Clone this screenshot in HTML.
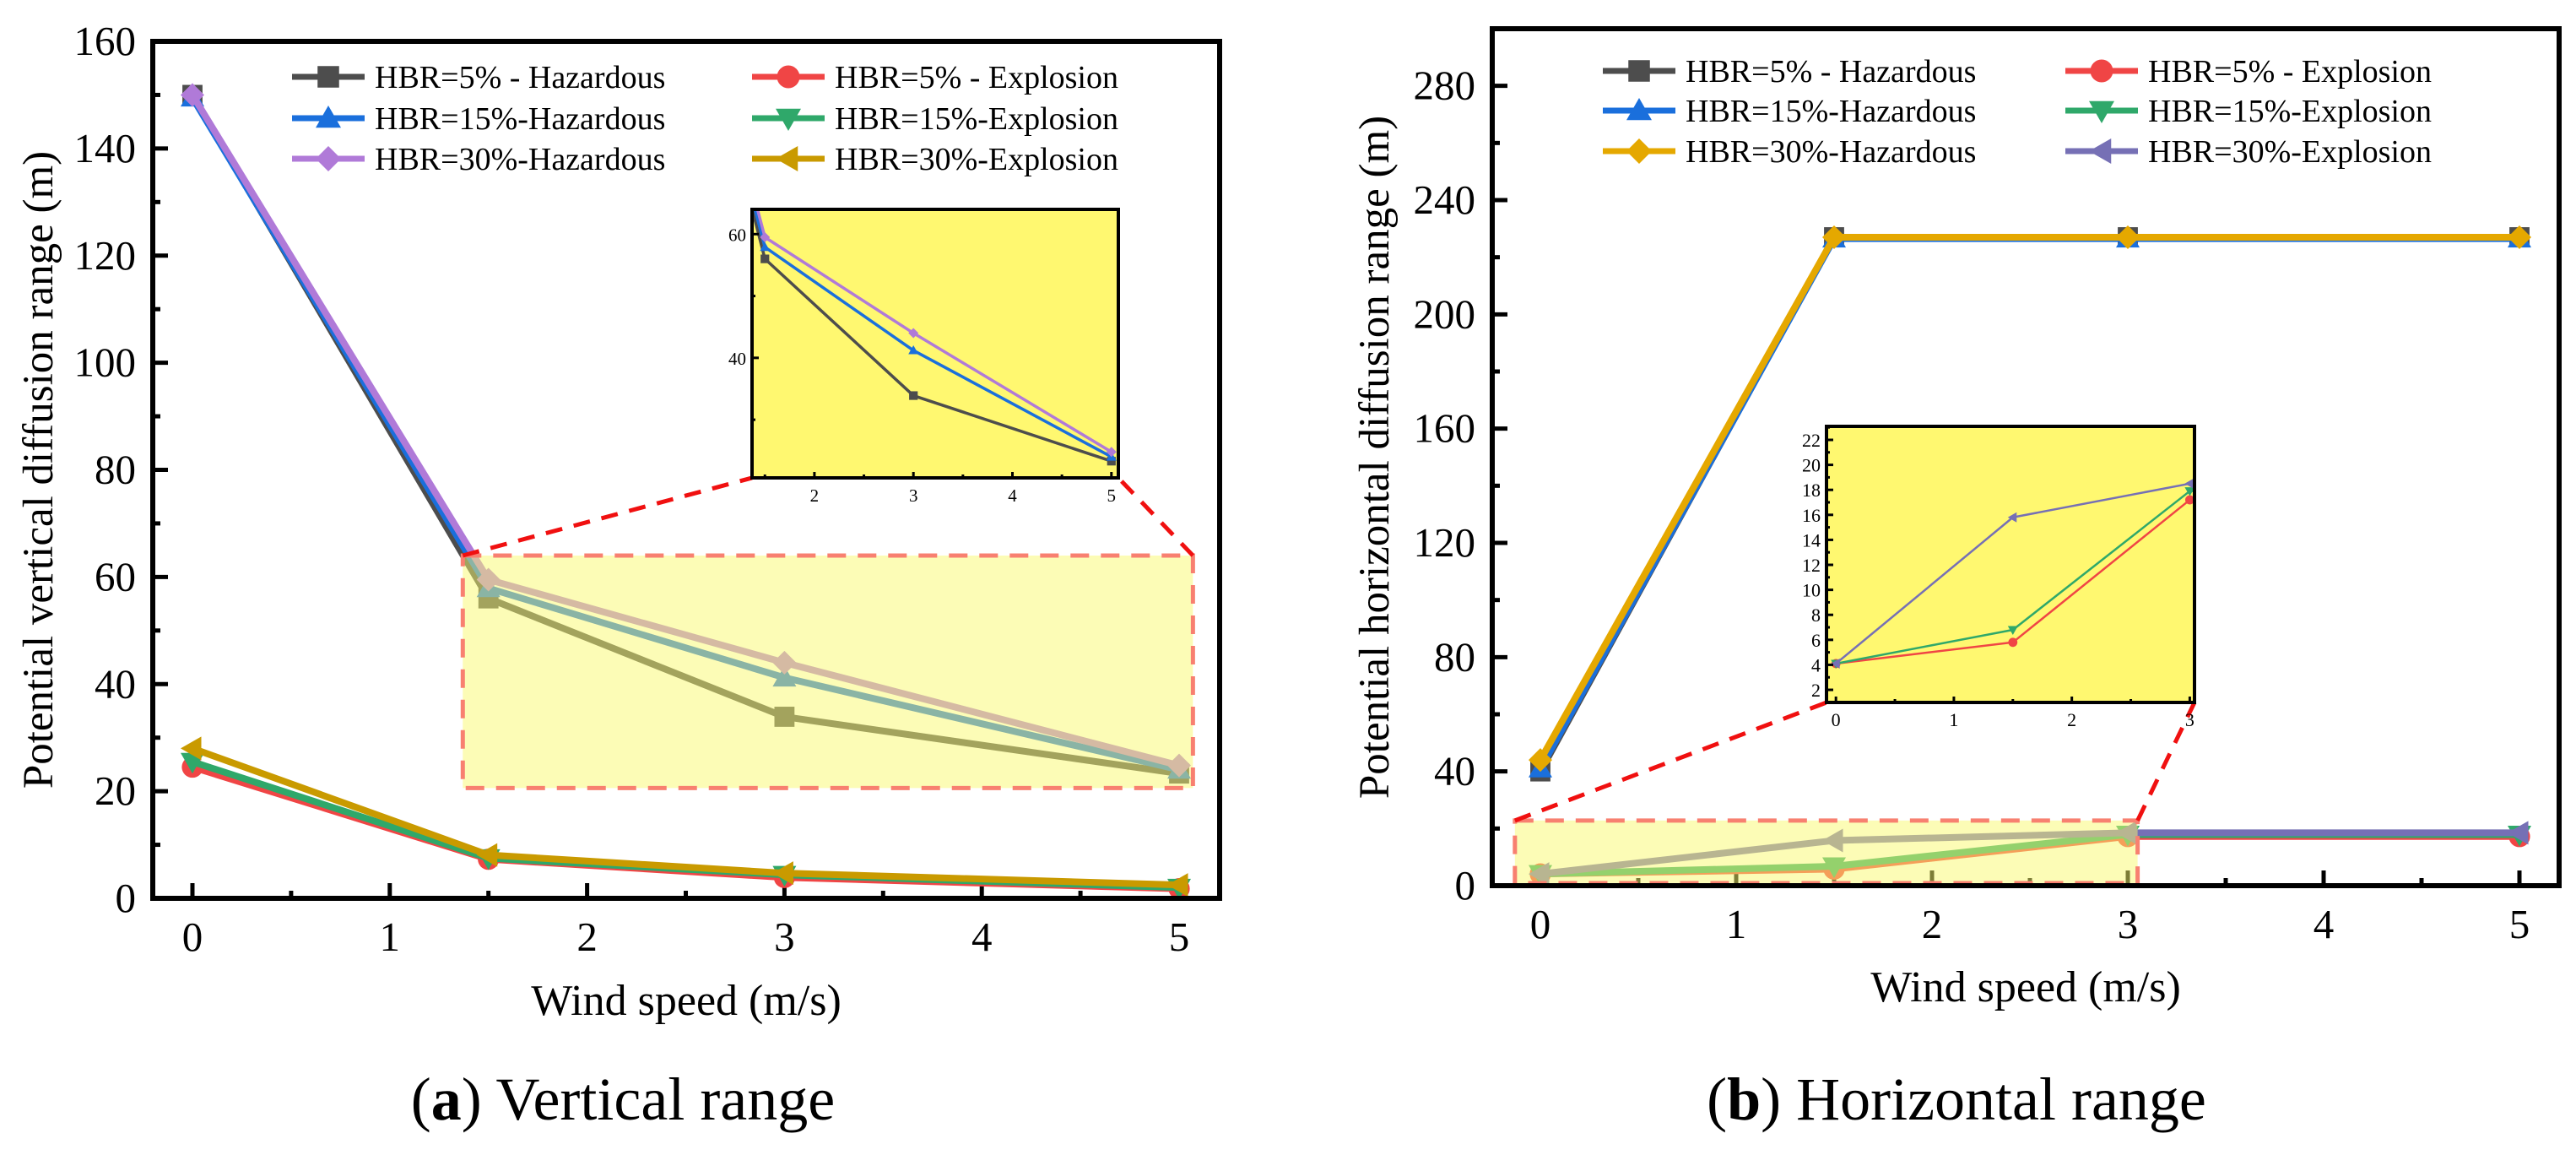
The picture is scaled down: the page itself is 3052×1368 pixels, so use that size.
<!DOCTYPE html>
<html><head><meta charset="utf-8">
<style>
html,body{margin:0;padding:0;background:#fff;}
svg{display:block;}
svg text, svg tspan{font-family:"Liberation Serif","DejaVu Serif",serif;}
</style></head>
<body>
<svg id="fig" width="3052" height="1368" viewBox="0 0 3052 1368" xmlns="http://www.w3.org/2000/svg" font-family="Liberation Serif, serif"></svg>
<script>
// ---- data: (a) vertical range ----
const windSpeeds = [0, 1.5, 3, 5];
const vHaz5 = [150, 56, 33.9, 23.3];
const vHaz15 = [149.5, 57.9, 41.2, 24];
const vHaz30 = [150, 59.5, 44, 24.8];
const vExp5 = [24.5, 7.3, 3.9, 1.8];
const vExp15 = [25.5, 7.5, 4.4, 2.0];
const vExp30 = [28, 8.1, 4.7, 2.5];
const vYTicks = [0, 20, 40, 60, 80, 100, 120, 140, 160];
const xTicks = [0, 1, 2, 3, 4, 5];
const vInsetYTicks = [40, 60];
const vInsetXTicks = [2, 3, 4, 5];
// ---- data: (b) horizontal range ----
const hHaz5 = [40, 227, 227, 227];
const hHaz15 = [41, 226.5, 226.5, 226.5];
const hHaz30 = [44, 227, 227, 227];
const hExp5 = [4.1, 5.8, 17.2, 17.2];
const hExp15 = [4.1, 6.8, 17.9, 17.9];
const hExp30 = [4.1, 15.8, 18.5, 18.5];
const hYTicks = [0, 40, 80, 120, 160, 200, 240, 280];
const hInsetYTicks = [2, 4, 6, 8, 10, 12, 14, 16, 18, 20, 22];
const hInsetXTicks = [0, 1, 2, 3];
const legendLabels = ["HBR=5% - Hazardous","HBR=15%-Hazardous","HBR=30%-Hazardous","HBR=5% - Explosion","HBR=15%-Explosion","HBR=30%-Explosion"];

const NS = "http://www.w3.org/2000/svg";
const svg = document.getElementById("fig");
const FONT = "'Liberation Serif', 'DejaVu Serif', serif";
function el(tag, attrs, parent){
  const e = document.createElementNS(NS, tag);
  for (const k in attrs) e.setAttribute(k, attrs[k]);
  if (tag === "text") e.setAttribute("style", "font-family:" + FONT);
  (parent || svg).appendChild(e);
  return e;
}
function marker(shape, cx, cy, s, color, parent){
  const h = s/2;
  let e;
  if (shape === "square") e = el("rect", {x:cx-h*0.85, y:cy-h*0.85, width:s*0.85, height:s*0.85, fill:color}, parent);
  else if (shape === "circle") e = el("circle", {cx:cx, cy:cy, r:h*0.9, fill:color}, parent);
  else if (shape === "up") e = el("polygon", {points:`${cx},${cy-h} ${cx+h},${cy+h*0.75} ${cx-h},${cy+h*0.75}`, fill:color}, parent);
  else if (shape === "down") e = el("polygon", {points:`${cx},${cy+h} ${cx+h},${cy-h*0.75} ${cx-h},${cy-h*0.75}`, fill:color}, parent);
  else if (shape === "left") e = el("polygon", {points:`${cx-h},${cy} ${cx+h*0.75},${cy-h} ${cx+h*0.75},${cy+h}`, fill:color}, parent);
  else e = el("polygon", {points:`${cx},${cy-h} ${cx+h},${cy} ${cx},${cy+h} ${cx-h},${cy}`, fill:color}, parent);
  return e;
}
function drawSeries(g, vals, xs, ys, color, shape, lw, ms, name){
  const pts = windSpeeds.map((w,i)=>`${xs(w)},${ys(vals[i])}`).join(" ");
  const pl = el("polyline", {points:pts, fill:"none", stroke:color, "stroke-width":lw, "stroke-linejoin":"round"}, g);
  
  
  windSpeeds.forEach((w,i)=>{
    const m = marker(shape, xs(w), ys(vals[i]), ms, color, g);
    
    
  });
}

function buildPanel(cfg){
  const g = el("g", {});
  
  
  const xs = v => cfg.x0v + v*cfg.xu;
  const ys = v => cfg.y1 - v*cfg.yu;
  for (let v=0; v<=5; v+=0.5){
    const major = Number.isInteger(v);
    const t = el("line", {x1:xs(v), x2:xs(v), y1:cfg.y1, y2:cfg.y1-(major?18:9), stroke:"#000", "stroke-width":5}, g);
    
    
  }
  xTicks.forEach(v=>{
    const t = el("text", {x:xs(v), y:cfg.y1+62, "font-size":49, "text-anchor":"middle"}, g);
    t.textContent = v;
    
    
  });
  const step = cfg.yTicks[1]-cfg.yTicks[0];
  for (let v=0; v<=cfg.yTicks[cfg.yTicks.length-1]; v+=step/2){
    const major = (v % step) === 0;
    const t = el("line", {x1:cfg.x0, x2:cfg.x0+(major?18:9), y1:ys(v), y2:ys(v), stroke:"#000", "stroke-width":5}, g);
    
    
  }
  cfg.yTicks.forEach(v=>{
    const t = el("text", {x:cfg.x0-20, y:ys(v)+16, "font-size":49, "text-anchor":"end"}, g);
    t.textContent = v;
    
    
  });
  const sg = el("g", {}, g);
  
  
  cfg.series.forEach(s=> drawSeries(sg, s.vals, xs, ys, s.color, s.shape, 8, 28, s.name));
  const hb = cfg.hl;
  const hx0 = xs(hb.x[0]), hx1 = xs(hb.x[1]), hy0 = ys(hb.y[1]), hy1 = ys(hb.y[0]);
  const hr = el("rect", {x:hx0, y:hy0, width:hx1-hx0, height:hy1-hy0, fill:"rgba(250,250,110,0.5)", stroke:"#f88070", "stroke-width":5, "stroke-dasharray":"22 14"}, g);
  
  
  const fr = el("rect", {x:cfg.x0, y:cfg.y0, width:cfg.x1-cfg.x0, height:cfg.y1-cfg.y0, fill:"none", stroke:"#000", "stroke-width":6}, g);
  
  
  const ins = cfg.inset;
  const ixs = v => ins.x + (v-ins.xr[0])/(ins.xr[1]-ins.xr[0])*ins.w;
  const iys = v => ins.y + ins.h - (v-ins.yr[0])/(ins.yr[1]-ins.yr[0])*ins.h;
  const c1 = el("line", {x1:hx0, y1:hy0, x2:ins.x, y2:ins.y+ins.h, stroke:"#f01010", "stroke-width":5, "stroke-dasharray":"20 14"}, g);
  
  
  const c2 = el("line", {x1:hx1, y1:hy0, x2:ins.x+ins.w, y2:ins.y+ins.h, stroke:"#f01010", "stroke-width":5, "stroke-dasharray":"20 14"}, g);
  
  
  const ig = el("g", {}, g);
  
  
  const ibg = el("rect", {x:ins.x, y:ins.y, width:ins.w, height:ins.h, fill:"#fff870"}, ig);
  
  
  const cp = el("clipPath", {id:cfg.name+"-clip"}, ig);
  el("rect", {x:ins.x, y:ins.y, width:ins.w, height:ins.h}, cp);
  const isg = el("g", {"clip-path":`url(#${cfg.name}-clip)`}, ig);
  
  
  ins.series.forEach(s=> drawSeries(isg, s.vals, ixs, iys, s.color, s.shape, ins.lw, ins.ms, 'inset-'+s.name));
  ins.xMinor.forEach(v=>{
    const t = el("line", {x1:ixs(v), x2:ixs(v), y1:ins.y+ins.h, y2:ins.y+ins.h-(Number.isInteger(v)?7:4), stroke:"#000", "stroke-width":3}, ig);
    
    
  });
  ins.xTicks.forEach(v=>{
    const t = el("text", {x:ixs(v), y:ins.y+ins.h+28, "font-size":ins.fs, "text-anchor":"middle"}, ig);
    t.textContent = v;
    
    
  });
  ins.yMinor.forEach(v=>{
    const t = el("line", {x1:ins.x, x2:ins.x+(ins.yTicks.includes(v)?8:4), y1:iys(v), y2:iys(v), stroke:"#000", "stroke-width":3}, ig);
    
    
  });
  ins.yTicks.forEach(v=>{
    const t = el("text", {x:ins.x-7, y:iys(v)+8, "font-size":ins.fs, "text-anchor":"end"}, ig);
    t.textContent = v;
    
    
  });
  const ifr = el("rect", {x:ins.x, y:ins.y, width:ins.w, height:ins.h, fill:"none", stroke:"#000", "stroke-width":4}, ig);
  
  
  const lg = el("g", {}, g);
  
  
  cfg.series.forEach((s,i)=>{
    const col = Math.floor(i/3), row = i%3;
    const lx = cfg.leg.x[col], ly = cfg.leg.y[row];
    const eg = el("g", {}, lg);
    
    
    el("line", {x1:lx, x2:lx+86, y1:ly, y2:ly, stroke:s.color, "stroke-width":7}, eg);
    marker(s.shape, lx+43, ly, 30, s.color, eg);
    const t = el("text", {x:lx+98, y:ly+13, "font-size":38}, eg);
    t.textContent = legendLabels[i];
  });
  const xt = el("text", {x:(cfg.x0+cfg.x1)/2, y:cfg.xTitleY, "font-size":52, "text-anchor":"middle"}, g);
  xt.textContent = "Wind speed (m/s)";
  
  
  const yt = el("text", {x:0, y:0, "font-size":51, "text-anchor":"middle", transform:`translate(${cfg.yTitleX},${(cfg.y0+cfg.y1)/2}) rotate(-90)`}, g);
  yt.textContent = cfg.yTitle;
  
  
  const cap = el("text", {x:cfg.capX, y:1326, "font-size":72, "text-anchor":"middle"}, g);
  const b = el("tspan", {"font-weight":"bold"}, cap);
  b.textContent = cfg.capLetter;
  cap.insertBefore(document.createTextNode("("), b);
  cap.appendChild(document.createTextNode(") " + cfg.caption));
  
  
}

const colA = {h5:"#4d4d4d", h15:"#1a6fdc", h30:"#b07ad8", e5:"#f04545", e15:"#2fa86a", e30:"#c99a00"};
buildPanel({
  name:"panel-a-vertical", x0:181, x1:1445, y0:49, y1:1064, x0v:228, xu:233.8, yu:1015/160,
  yTicks:vYTicks, xTitleY:1202, yTitleX:62, yTitle:"Potential vertical diffusion range (m)",
  capX:738, capLetter:"a", caption:"Vertical range",
  series:[
    {vals:vHaz5, color:colA.h5, shape:"square", name:"hbr5-hazardous"},
    {vals:vHaz15, color:colA.h15, shape:"up", name:"hbr15-hazardous"},
    {vals:vHaz30, color:colA.h30, shape:"diamond", name:"hbr30-hazardous"},
    {vals:vExp5, color:colA.e5, shape:"circle", name:"hbr5-explosion"},
    {vals:vExp15, color:colA.e15, shape:"down", name:"hbr15-explosion"},
    {vals:vExp30, color:colA.e30, shape:"left", name:"hbr30-explosion"}
  ],
  hl:{x:[1.37,5.07], y:[20.6,64]},
  inset:{x:891, y:248, w:434, h:318, xr:[1.37,5.07], yr:[20.6,64], lw:3.5, ms:12, fs:21,
    xTicks:vInsetXTicks, xMinor:[1.5,2,2.5,3,3.5,4,4.5,5], yTicks:vInsetYTicks, yMinor:[30,40,50,60],
    series:[
      {vals:vHaz5, color:colA.h5, shape:"square", name:"hbr5-hazardous"},
      {vals:vHaz15, color:colA.h15, shape:"up", name:"hbr15-hazardous"},
      {vals:vHaz30, color:colA.h30, shape:"diamond", name:"hbr30-hazardous"}
    ]},
  leg:{x:[346,891], y:[91,140,188]}
});
const colB = {h5:"#4d4d4d", h15:"#1a6fdc", h30:"#e5a800", e5:"#f04545", e15:"#2fa86a", e30:"#7670b5"};
buildPanel({
  name:"panel-b-horizontal", x0:1768, x1:3032, y0:34, y1:1049, x0v:1825, xu:232, yu:1015/300,
  yTicks:hYTicks, xTitleY:1186, yTitleX:1645, yTitle:"Potential horizontal diffusion range (m)",
  capX:2318, capLetter:"b", caption:"Horizontal range",
  series:[
    {vals:hHaz5, color:colB.h5, shape:"square", name:"hbr5-hazardous"},
    {vals:hHaz15, color:colB.h15, shape:"up", name:"hbr15-hazardous"},
    {vals:hHaz30, color:colB.h30, shape:"diamond", name:"hbr30-hazardous"},
    {vals:hExp5, color:colB.e5, shape:"circle", name:"hbr5-explosion"},
    {vals:hExp15, color:colB.e15, shape:"down", name:"hbr15-explosion"},
    {vals:hExp30, color:colB.e30, shape:"left", name:"hbr30-explosion"}
  ],
  hl:{x:[-0.13,3.05], y:[0.9,22.8]},
  inset:{x:2164, y:505, w:436, h:327, xr:[-0.08,3.04], yr:[0.99,23.08], lw:2.5, ms:12, fs:22,
    xTicks:hInsetXTicks, xMinor:[0,0.5,1,1.5,2,2.5,3], yTicks:hInsetYTicks, yMinor:[1,2,3,4,5,6,7,8,9,10,11,12,13,14,15,16,17,18,19,20,21,22,23],
    series:[
      {vals:hExp5, color:colB.e5, shape:"circle", name:"hbr5-explosion"},
      {vals:hExp15, color:colB.e15, shape:"down", name:"hbr15-explosion"},
      {vals:hExp30, color:colB.e30, shape:"left", name:"hbr30-explosion"}
    ]},
  leg:{x:[1899,2447], y:[84,131,179]}
});
</script>
</body></html>
